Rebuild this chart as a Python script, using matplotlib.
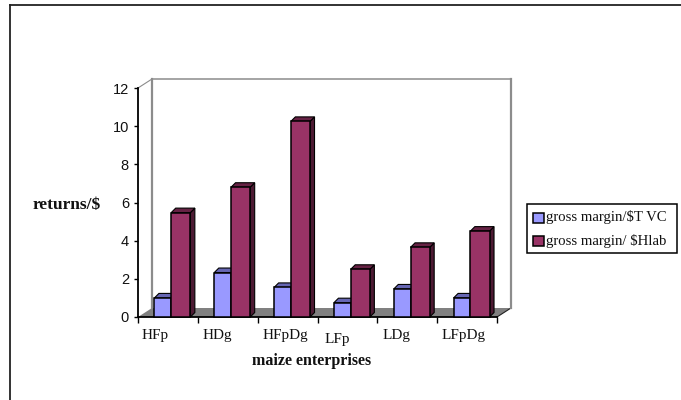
import matplotlib
matplotlib.use("Agg")
import matplotlib.pyplot as plt
from matplotlib.patches import Polygon, Rectangle

categories = ["HFp", "HDg", "HFpDg", "LFp", "LDg", "LFpDg"]
series_names = ["gross margin/$T VC", "gross margin/ $Hlab"]
tvc_values = [1.0, 2.33, 1.55, 0.75, 1.47, 1.0]
hlab_values = [5.47, 6.8, 10.25, 2.5, 3.65, 4.5]
y_ticks = [0, 2, 4, 6, 8, 10, 12]

W, H = 681, 400
SERIF = "Liberation Serif"
SANS = "Liberation Sans"

fig = plt.figure(figsize=(W / 100, H / 100), dpi=100)
bg = fig.add_axes([0, 0, 1, 1])
bg.set_xlim(0, W)
bg.set_ylim(H, 0)
bg.axis("off")

# outer chart border, only left and top are visible in the reference
bg.plot([9.5, 9.5], [H, 4.5], color="#222222", lw=1.3, solid_joinstyle="miter")
bg.plot([9.5, W], [4.5, 4.5], color="#222222", lw=1.3)

# front plane of the 3d plot, depth is an offset in data units
left, right, top, bottom = 138, 497, 88, 317
ax = fig.add_axes([left / W, 1 - bottom / H, (right - left) / W, (bottom - top) / H])
ax.set_xlim(0, 6)
ax.set_ylim(0, 12)
ax.patch.set_visible(False)
for s in ["top", "right"]:
    ax.spines[s].set_visible(False)
for s in ["left", "bottom"]:
    ax.spines[s].set_linewidth(1.3)
ppx = 6 / (right - left)
ppy = 12 / (bottom - top)
wall_dx, wall_dy = 14 * ppx, 9 * ppy

# floor and back wall
ax.add_patch(Polygon([(0, 0), (6, 0), (6 + wall_dx, wall_dy), (wall_dx, wall_dy)],
                     closed=True, fc="#808080", ec="none", clip_on=False, zorder=1))
ax.plot([6, 6 + wall_dx], [0, wall_dy], color="#222222", lw=0.8, clip_on=False, zorder=1)
ax.plot([wall_dx, wall_dx], [wall_dy, 12 + wall_dy], color="#8c8c8c", lw=1.6, clip_on=False, zorder=1)
ax.plot([6 + wall_dx, 6 + wall_dx], [wall_dy, 12 + wall_dy], color="#8c8c8c", lw=1.6, clip_on=False, zorder=1)
ax.plot([wall_dx, 6 + wall_dx], [12 + wall_dy, 12 + wall_dy], color="#8c8c8c", lw=1.1, clip_on=False, zorder=1)
ax.plot([0, wall_dx], [12, 12 + wall_dy], color="#8c8c8c", lw=0.8, clip_on=False, zorder=1)


def bar3d(x0, x1, h, front, topc, side, z):
    dx, dy = 4.5 * ppx, 4.5 * ppy
    ax.add_patch(Polygon([(x1, 0), (x1 + dx, dy), (x1 + dx, h + dy), (x1, h)],
                         closed=True, fc=side, ec="black", lw=0.8, clip_on=False, zorder=z))
    ax.add_patch(Polygon([(x0, h), (x0 + dx, h + dy), (x1 + dx, h + dy), (x1, h)],
                         closed=True, fc=topc, ec="black", lw=0.8, clip_on=False, zorder=z))
    ax.add_patch(Rectangle((x0, 0), x1 - x0, h, fc=front, ec="black", lw=1.1, clip_on=False, zorder=z))


blue = ("#9999ff", "#6666b3", "#4d4d80")
red = ("#993366", "#662244", "#4d1a33")
for i in range(len(categories)):
    bar3d(i + 0.275, i + 0.555, tvc_values[i], *blue, 3)
    bar3d(i + 0.555, i + 0.875, hlab_values[i], *red, 4)

ax.set_xticks(range(7))
ax.set_xticklabels([])
ax.set_yticks(y_ticks)
ax.set_yticklabels([str(v) for v in y_ticks], family=SANS, fontsize=10.5, color="#111111")
ax.tick_params(axis="y", length=3, width=1, pad=3.5)
ax.tick_params(axis="x", length=4, width=1, direction="out")

# category labels, LFp sits lower in the reference
label_x = [155, 217, 285, 337, 396, 464]
label_y = [335, 335, 335, 340, 335, 335]
for name, x, y in zip(categories, label_x, label_y):
    bg.text(x, y, name, family=SERIF, fontsize=11, ha="center", va="center", color="#111111")

bg.text(312, 361, "maize enterprises", family=SERIF, fontsize=11.5, weight="bold",
        ha="center", va="center", color="#111111")
bg.text(66.5, 205, "returns/$", family=SERIF, fontsize=12.5, weight="bold", ha="center", va="center", color="#111111")

# legend box
bg.add_patch(Rectangle((527, 204), 150, 49, fc="white", ec="black", lw=1.1))
for y, name, c in zip([217.5, 241], series_names, [blue, red]):
    bg.add_patch(Rectangle((533, y - 5), 11, 10, fc=c[0], ec="black", lw=1.1))
    bg.text(546.5, y - 0.5, name, family=SERIF, fontsize=10.6, ha="left", va="center", color="#111111")

fig.savefig("out.png", dpi=100)
